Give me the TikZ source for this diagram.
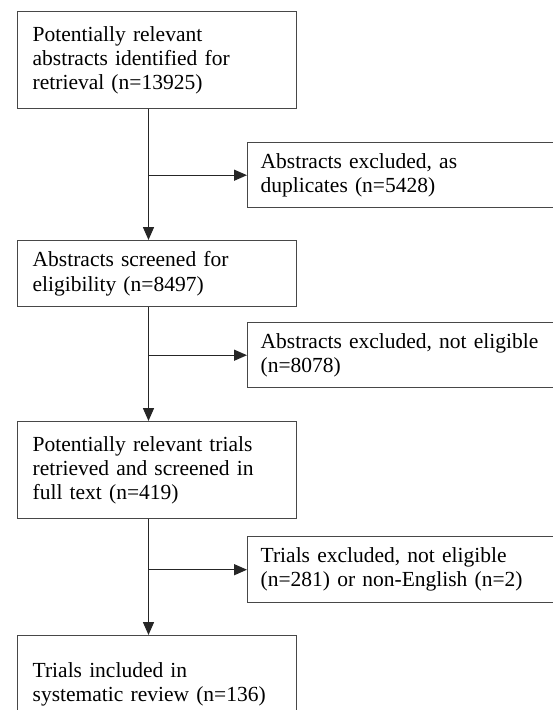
\documentclass[tikz,border=0pt]{standalone}
\usepackage{fontspec}
\setmainfont{Liberation Serif}
\usetikzlibrary{arrows.meta}
\begin{document}
\begin{tikzpicture}[x=1pt,y=-1pt,
  box/.style={draw=black!72, line width=1.4pt, anchor=north west, align=left,
    font=\fontsize{21.5}{24.3}\selectfont, inner ysep=0pt, text=black},
  lbox/.style={box, inner xsep=15pt, text width=249pt, minimum width=279pt},
  rbox/.style={box, inner xsep=13pt, text width=304pt, minimum width=330pt},
  conn/.style={draw=black!85, line width=1.4pt, -{Triangle[length=13pt,width=11pt]}},
  line/.style={draw=black!80, line width=1.3pt}]
\path[use as bounding box, clip] (0,0) rectangle (553,710);
\fill[white] (0,0) rectangle (553,710);
\node[lbox, minimum height=97pt] (b1) at (17,11) {Potentially relevant\\abstracts identified for\\retrieval (n=13925)};
\node[rbox, minimum height=65pt] (b2) at (247,142) {Abstracts excluded, as\\duplicates (n=5428)};
\node[lbox, minimum height=66pt] (b3) at (17,240) {Abstracts screened for\\eligibility (n=8497)};
\node[rbox, minimum height=65pt] (b4) at (247,322) {Abstracts excluded, not eligible\\(n=8078)};
\node[lbox, minimum height=97pt] (b5) at (17,421) {Potentially relevant trials\\retrieved and screened in\\full text (n=419)};
\node[rbox, minimum height=66pt] (b6) at (247,536) {Trials excluded, not eligible\\(n=281) or non-English (n=2)};
\node[lbox, minimum height=97pt] (b7) at (17,635) {Trials included in\\systematic review (n=136)};
\coordinate (spine) at (148.5,0);
\coordinate (s2) at (spine |- b2.west);
\coordinate (s4) at (spine |- b4.west);
\coordinate (s6) at (spine |- b6.west);
\draw[conn] (b1.south -| spine) -- (b3.north -| spine);
\draw[conn] (s2) -- (b2.west);
\draw[conn] (b3.south -| spine) -- (b5.north -| spine);
\draw[conn] (s4) -- (b4.west);
\draw[conn] (b5.south -| spine) -- (b7.north -| spine);
\draw[conn] (s6) -- (b6.west);
\end{tikzpicture}
\end{document}
